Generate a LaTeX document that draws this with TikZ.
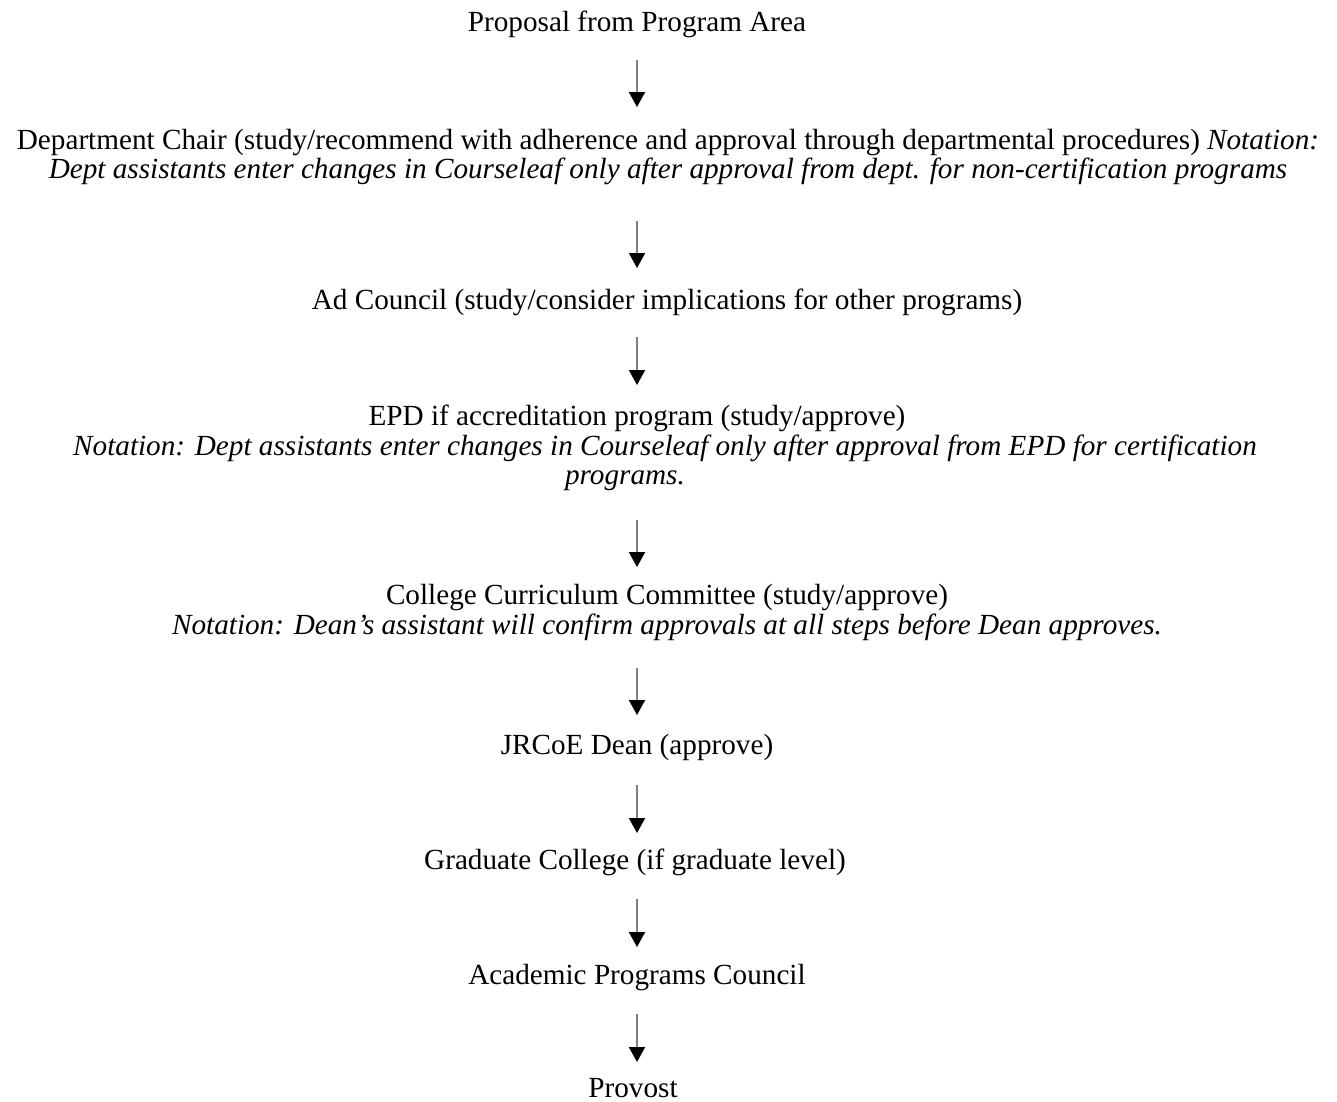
\documentclass[tikz,border=0pt]{standalone}
\usepackage{fontspec}
\setmainfont{Liberation Serif}
\usetikzlibrary{arrows.meta}
\usetikzlibrary{positioning}

\begin{document}
\begin{tikzpicture}[x=1pt,y=-1pt]
    \tikzstyle{stage}=[inner sep=0pt, anchor=base, font=\fontsize{29.2}{29.5}\selectfont]
    \tikzstyle{note}=[stage, font=\fontsize{29.2}{29.5}\selectfont\itshape]
    \tikzstyle{flow}=[draw=gray, line width=2pt, -{Triangle[width=16pt, length=15pt, color=black]}]

    \useasboundingbox (0,0) rectangle (1337,1101);

    % Approval stages
    \node[stage] (prop) at (637,31) {Proposal from Program Area};
    \node[stage] (chair) at (668,149) {Department Chair (study/recommend with adherence and approval through departmental procedures) \textit{Notation:}};
    \node[note] (chairnote) at (668,178) {Dept assistants enter changes in Courseleaf only after approval from dept. for non-certification programs};
    \node[stage] (adc) at (667,309) {Ad Council (study/consider implications for other programs)};
    \node[stage] (epd) at (637,425) {EPD if accreditation program (study/approve)};
    \node[note] (epdnote) at (665,455) {Notation: Dept assistants enter changes in Courseleaf only after approval from EPD for certification};
    \node[note] (epdnote2) at (625,484) {programs.};
    \node[stage] (ccc) at (667,604) {College Curriculum Committee (study/approve)};
    \node[note] (cccnote) at (667,634) {Notation: Dean’s assistant will confirm approvals at all steps before Dean approves.};
    \node[stage] (dean) at (637,754) {JRCoE Dean (approve)};
    \node[stage] (grad) at (635,869) {Graduate College (if graduate level)};
    \node[stage] (apc) at (637,984) {Academic Programs Council};
    \node[stage] (prov) at (633,1097) {Provost};

    % Arrow ends
    \coordinate (a1) at (637,60);   \coordinate (b1) at (637,107);
    \coordinate (a2) at (637,221);  \coordinate (b2) at (637,268);
    \coordinate (a3) at (637,337);  \coordinate (b3) at (637,385);
    \coordinate (a4) at (637,520);  \coordinate (b4) at (637,567);
    \coordinate (a5) at (637,668);  \coordinate (b5) at (637,715);
    \coordinate (a6) at (637,785);  \coordinate (b6) at (637,833);
    \coordinate (a7) at (637,899);  \coordinate (b7) at (637,947);
    \coordinate (a8) at (637,1014); \coordinate (b8) at (637,1062);
    \foreach \i in {1,...,8}
      \draw[flow] (a\i) -- (b\i);
\end{tikzpicture}
\end{document}
